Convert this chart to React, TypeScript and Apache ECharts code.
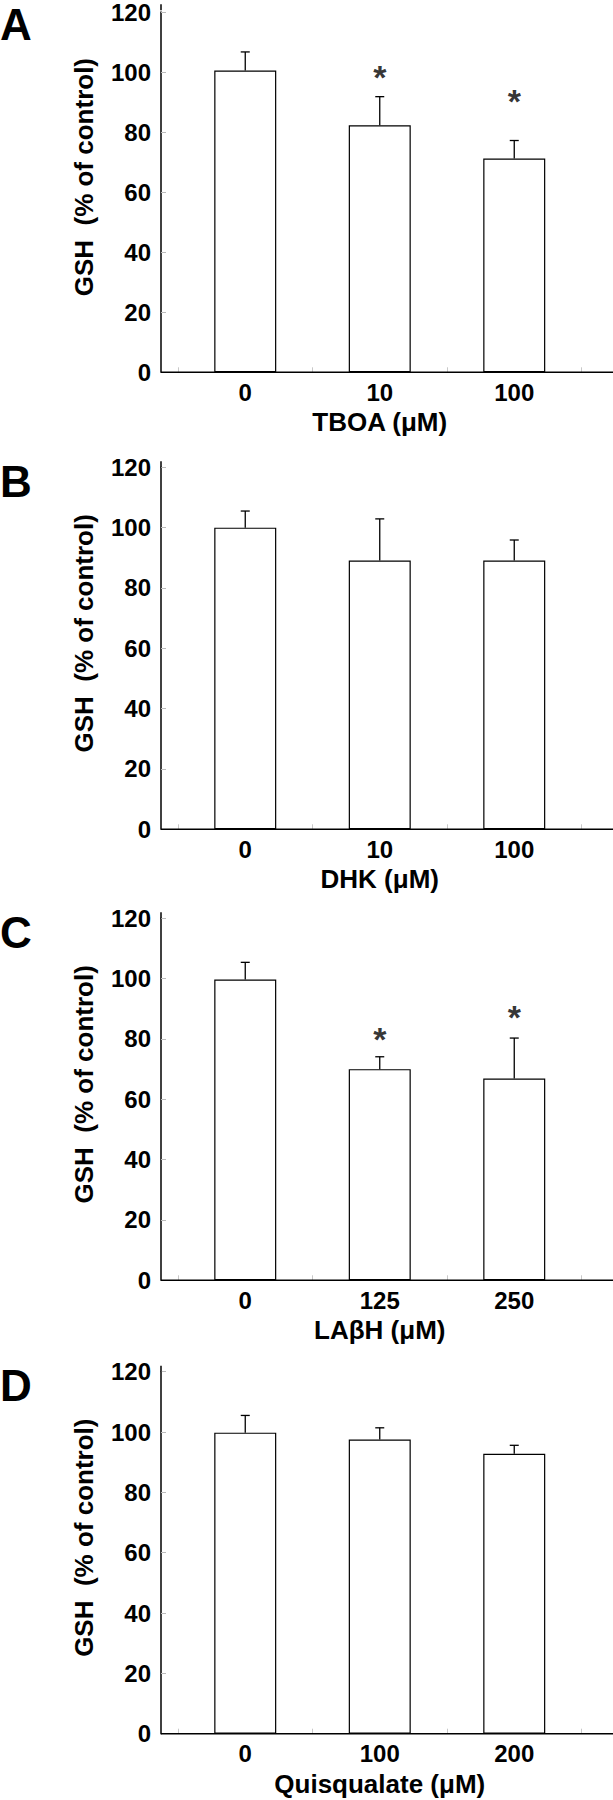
import React, { useEffect, useRef } from "react";
import * as echarts from "echarts";

// ---------- data ----------
const panelLetters = ["A", "B", "C", "D"];
const xTitles = ["TBOA (μM)", "DHK (μM)", "LAβH (μM)", "Quisqualate (μM)"];
const yTitle = "GSH  (% of control)";

const categoriesA = ["0", "10", "100"];
const categoriesB = ["0", "10", "100"];
const categoriesC = ["0", "125", "250"];
const categoriesD = ["0", "100", "200"];

const meansA = [100.5, 82.3, 71.2];
const errA = [6.2, 9.5, 6.0];
const starsA = [null, 100.8, 92.7];

const meansB = [100, 89.1, 89.1];
const errB = [5.5, 13.8, 6.8];
const starsB = [null, null, null];

const meansC = [99.7, 70.0, 66.9];
const errC = [5.7, 4.1, 13.4];
const starsC = [null, 82.6, 89.8];

const meansD = [99.8, 97.5, 92.8];
const errD = [5.7, 3.9, 2.8];
const starsD = [null, null, null];

const yMin = 0;
const yMax = 120;
const yStep = 20;

const panels = [
  { cats: categoriesA, means: meansA, err: errA, stars: starsA },
  { cats: categoriesB, means: meansB, err: errB, stars: starsB },
  { cats: categoriesC, means: meansC, err: errC, stars: starsC },
  { cats: categoriesD, means: meansD, err: errD, stars: starsD },
];

// ---------- layout ----------
const W = 613;
const H = 1800;
const AXIS_X = 161;
const PLOT_LEFT = 178;
const PLOT_W = 403.5;
const PLOT_H = 362;
const BOTTOMS = [372.3, 829.3, 1280.3, 1733.7];
const FONT = "'Liberation Sans', Arial, Helvetica, sans-serif";

export default function App() {
  const ref = useRef<HTMLDivElement>(null);

  useEffect(() => {
    document.body.style.margin = "0";
    if (!ref.current) return;
    const chart = echarts.init(ref.current, null, { renderer: "svg" });

    const grids: any[] = [];
    const xAxes: any[] = [];
    const yAxes: any[] = [];
    const series: any[] = [];
    const graphics: any[] = [];

    panels.forEach((p, i) => {
      const bottom = BOTTOMS[i];
      const top = bottom - PLOT_H;
      grids.push({ left: PLOT_LEFT, top, width: PLOT_W, height: PLOT_H });
      xAxes.push({
        type: "category",
        gridIndex: i,
        data: p.cats,
        axisLine: { show: false },
        axisTick: { show: true, inside: true, length: 5, lineStyle: { color: "#c8c8c8", width: 1 } },
        axisLabel: { fontSize: 24, fontWeight: "bold", color: "#000", fontFamily: FONT, margin: 8 },
        name: xTitles[i],
        nameLocation: "middle",
        nameGap: 37,
        nameTextStyle: { fontSize: 26, fontWeight: "bold", color: "#000", fontFamily: FONT },
      });
      yAxes.push({
        type: "value",
        gridIndex: i,
        min: yMin,
        max: yMax,
        interval: yStep,
        offset: PLOT_LEFT - AXIS_X,
        axisLine: { show: true, lineStyle: { color: "#000", width: 1.5 } },
        axisTick: { show: true, inside: true, length: 5, lineStyle: { color: "#bbb", width: 1 } },
        axisLabel: { fontSize: 24, fontWeight: "bold", color: "#000", fontFamily: FONT, margin: 10 },
        splitLine: { show: false },
        name: yTitle,
        nameLocation: "middle",
        nameGap: 64,
        nameRotate: 90,
        nameTextStyle: {
          fontSize: 26,
          fontWeight: "bold",
          color: "#000",
          fontFamily: FONT,
          padding: [0, 0, 0, 30],
        },
      });
      series.push({
        type: "bar",
        xAxisIndex: i,
        yAxisIndex: i,
        data: p.means,
        barWidth: 62,
        itemStyle: { color: "#fff", borderColor: "#000", borderWidth: 1.2 },
        z: 2,
      });
      series.push({
        type: "custom",
        xAxisIndex: i,
        yAxisIndex: i,
        data: p.means.map((m, j) => [j, m, p.err[j]]),
        encode: { x: 0, y: 1 },
        z: 3,
        renderItem: (params: any, api: any) => {
          const xi = api.value(0);
          const m = api.value(1);
          const e = api.value(2);
          const p0 = api.coord([xi, m]);
          const p1 = api.coord([xi, m + e]);
          const cap = 4.5;
          return {
            type: "group",
            children: [
              { type: "line", shape: { x1: p0[0], y1: p0[1], x2: p1[0], y2: p1[1] }, style: { stroke: "#000", lineWidth: 1.3 } },
              { type: "line", shape: { x1: p1[0] - cap, y1: p1[1], x2: p1[0] + cap, y2: p1[1] }, style: { stroke: "#000", lineWidth: 1.3 } },
            ],
          };
        },
      });
      const starData = p.stars.flatMap((s, j) => (s == null ? [] : [[j, s]]));
      if (starData.length) {
        series.push({
          type: "scatter",
          xAxisIndex: i,
          yAxisIndex: i,
          data: starData,
          symbol: "circle",
          symbolSize: 1,
          itemStyle: { color: "rgba(0,0,0,0)" },
          z: 4,
          label: {
            show: true,
            position: "inside",
            formatter: "*",
            offset: [0, 7.5],
            fontSize: 34,
            fontWeight: "bold",
            color: "#000",
            fontFamily: FONT,
          },
        });
      }
      // full-width x-axis baseline
      graphics.push({
        type: "line",
        shape: { x1: AXIS_X, y1: bottom, x2: W, y2: bottom },
        style: { stroke: "#000", lineWidth: 1.5 },
        z: 10,
      });
      // small extension of y axis above the 120 tick
      graphics.push({
        type: "line",
        shape: { x1: AXIS_X, y1: top - 6, x2: AXIS_X, y2: top },
        style: { stroke: "#000", lineWidth: 1.5 },
        z: 10,
      });
      graphics.push({
        type: "text",
        x: 0,
        y: top + 14,
        style: {
          text: panelLetters[i],
          font: `bold 44px ${FONT}`,
          fill: "#000",
          textVerticalAlign: "middle",
        },
        z: 10,
      });
    });

    chart.setOption({
      animation: false,
      backgroundColor: "#fff",
      grid: grids,
      xAxis: xAxes,
      yAxis: yAxes,
      series,
      graphic: graphics,
    });

    return () => chart.dispose();
  }, []);

  return <div ref={ref} style={{ width: W, height: H }} />;
}
